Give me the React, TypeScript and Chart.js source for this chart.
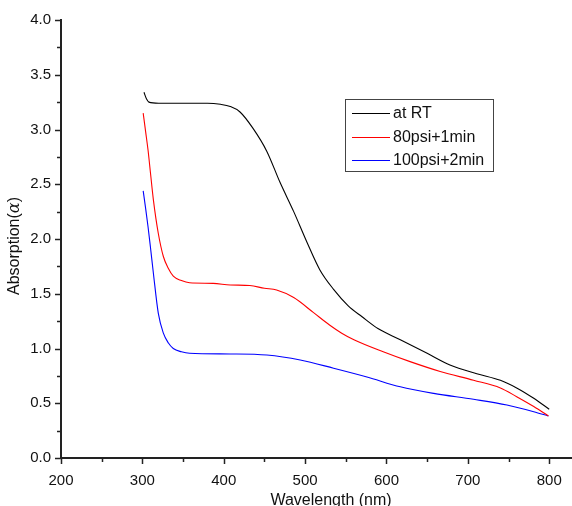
import React, { useEffect, useRef } from "react";
import { Chart, registerables } from "chart.js";

Chart.register(...registerables);

const rtWavelength = [302, 305, 308, 320, 350, 380, 396, 408, 420, 436, 453, 469, 486, 502, 518, 535, 553, 570, 590, 617, 650, 678, 711, 740, 760, 781, 800];
const rtAbsorption = [3.34, 3.28, 3.25, 3.24, 3.24, 3.24, 3.23, 3.21, 3.16, 3.01, 2.8, 2.52, 2.25, 1.975, 1.72, 1.54, 1.39, 1.29, 1.18, 1.08, 0.956, 0.85, 0.77, 0.71, 0.64, 0.545, 0.445];

const p80Wavelength = [301, 304, 307, 310, 313.5, 319.6, 325.8, 332, 338, 348, 358, 387, 408, 432, 450, 465, 486, 510, 530, 545, 560, 596, 629, 666, 707, 740, 760, 781, 799];
const p80Absorption = [3.15, 2.98, 2.81, 2.6, 2.36, 2.05, 1.84, 1.73, 1.66, 1.62, 1.6, 1.595, 1.58, 1.575, 1.55, 1.534, 1.465, 1.33, 1.215, 1.14, 1.08, 0.97, 0.88, 0.79, 0.71, 0.64, 0.56, 0.47, 0.384];

const p100Wavelength = [301, 304, 307, 310, 313.5, 319.6, 325.8, 332, 338, 348, 358, 408, 453, 494, 535, 576, 617, 658, 707, 748, 781, 799];
const p100Absorption = [2.44, 2.28, 2.11, 1.92, 1.69, 1.32, 1.14, 1.05, 1.0, 0.97, 0.956, 0.95, 0.94, 0.895, 0.82, 0.74, 0.65, 0.59, 0.536, 0.484, 0.423, 0.384];

const seriesLabels = ["at RT", "80psi+1min", "100psi+2min"];
const seriesColors = ["#000000", "#ff0000", "#0000ff"];

const xTitle = "Wavelength (nm)";
const yTitleMain = "Absorption(";
const yTitleSymbol = "α";
const yTitleEnd = ")";

const FONT = "'Liberation Sans', Arial, sans-serif";

const toPoints = (xs: number[], ys: number[]) => xs.map((x, i) => ({ x, y: ys[i] }));

const customPlugin = {
  id: "customDecor",
  afterDraw(chart: any) {
    const ctx: CanvasRenderingContext2D = chart.ctx;
    const xs = chart.scales.x;
    const ys = chart.scales.y;
    const area = chart.chartArea;
    ctx.save();
    ctx.strokeStyle = "#222";
    ctx.lineWidth = 1.5;
    xs.ticks.forEach((t: any) => {
      const px = Math.round(xs.getPixelForValue(t.value)) + 0.5;
      const len = t.value % 100 === 0 ? 6 : 4;
      ctx.beginPath();
      ctx.moveTo(px, area.bottom);
      ctx.lineTo(px, area.bottom + len);
      ctx.stroke();
    });
    ys.ticks.forEach((t: any) => {
      const py = Math.round(ys.getPixelForValue(t.value)) + 0.5;
      const len = Math.abs(t.value * 2 - Math.round(t.value * 2)) < 1e-6 ? 6 : 4;
      ctx.beginPath();
      ctx.moveTo(area.left, py);
      ctx.lineTo(area.left - len, py);
      ctx.stroke();
    });

    // x title
    ctx.fillStyle = "#111";
    ctx.font = `16px ${FONT}`;
    ctx.textAlign = "center";
    ctx.textBaseline = "alphabetic";
    ctx.fillText(xTitle, 331, 505);

    // y title
    ctx.save();
    ctx.translate(19, 246);
    ctx.rotate(-Math.PI / 2);
    const mainFont = `16px ${FONT}`;
    const symFont = `italic 16px 'DejaVu Serif', serif`;
    ctx.font = mainFont;
    const w1 = ctx.measureText(yTitleMain).width;
    const w3 = ctx.measureText(yTitleEnd).width;
    ctx.font = symFont;
    const w2 = ctx.measureText(yTitleSymbol).width;
    const total = w1 + w2 + w3;
    let cx = -total / 2;
    ctx.textAlign = "left";
    ctx.textBaseline = "alphabetic";
    ctx.font = mainFont;
    ctx.fillText(yTitleMain, cx, 0);
    cx += w1;
    ctx.font = symFont;
    ctx.fillText(yTitleSymbol, cx, 0);
    cx += w2;
    ctx.font = mainFont;
    ctx.fillText(yTitleEnd, cx, 0);
    ctx.restore();

    // legend
    const bx = 345.5, by = 99.5, bw = 148, bh = 72;
    ctx.fillStyle = "#fff";
    ctx.fillRect(bx, by, bw, bh);
    ctx.strokeStyle = "#444";
    ctx.lineWidth = 1;
    ctx.strokeRect(bx, by, bw, bh);
    const rowY = [113, 137, 160];
    chart.data.datasets.forEach((ds: any, i: number) => {
      ctx.strokeStyle = seriesColors[i];
      ctx.lineWidth = 1.2;
      ctx.beginPath();
      ctx.moveTo(352, rowY[i] + 0.5);
      ctx.lineTo(390, rowY[i] + 0.5);
      ctx.stroke();
      ctx.fillStyle = "#111";
      ctx.font = `16px ${FONT}`;
      ctx.textAlign = "left";
      ctx.textBaseline = "middle";
      ctx.fillText(ds.label, 393, rowY[i] + 1);
    });
    ctx.restore();
  },
};

export default function App() {
  const canvasRef = useRef<HTMLCanvasElement>(null);

  useEffect(() => {
    document.body.style.margin = "0";
    const canvas = canvasRef.current;
    if (!canvas) return;
    const chart = new Chart(canvas, {
      type: "line",
      data: {
        datasets: [
          { label: seriesLabels[0], data: toPoints(rtWavelength, rtAbsorption), borderColor: seriesColors[0] },
          { label: seriesLabels[1], data: toPoints(p80Wavelength, p80Absorption), borderColor: seriesColors[1] },
          { label: seriesLabels[2], data: toPoints(p100Wavelength, p100Absorption), borderColor: seriesColors[2] },
        ].map((d) => ({
          ...d,
          borderWidth: 1.1,
          pointRadius: 0,
          fill: false,
          cubicInterpolationMode: "monotone" as const,
        })),
      },
      options: {
        responsive: false,
        animation: false,
        layout: { padding: { top: 20, left: 0, right: 0, bottom: 0 } },
        plugins: { legend: { display: false }, tooltip: { enabled: false } },
        scales: {
          x: {
            type: "linear",
            min: 200,
            max: 828,
            afterFit: (s: any) => {
              s.height = 48;
            },
            ticks: {
              stepSize: 50,
              includeBounds: false,
              autoSkip: false,
              maxRotation: 0,
              padding: 8,
              color: "#111",
              font: { family: FONT, size: 15 },
              callback: (v: any) => (Number(v) % 100 === 0 ? String(v) : ""),
            },
            grid: { drawOnChartArea: false, drawTicks: true, tickLength: 6, tickColor: "rgba(0,0,0,0)" },
            border: { color: "#222", width: 2 },
          },
          y: {
            type: "linear",
            min: 0,
            max: 4,
            afterFit: (s: any) => {
              s.width = 61;
            },
            ticks: {
              stepSize: 0.25,
              includeBounds: false,
              autoSkip: false,
              padding: 4,
              color: "#111",
              font: { family: FONT, size: 15 },
              callback: (v: any) => {
                const n = Number(v);
                return Math.abs(n * 2 - Math.round(n * 2)) < 1e-6 ? n.toFixed(1) : "";
              },
            },
            grid: { drawOnChartArea: false, drawTicks: true, tickLength: 6, tickColor: "rgba(0,0,0,0)" },
            border: { color: "#222", width: 2 },
          },
        },
      },
      plugins: [customPlugin],
    });
    return () => chart.destroy();
  }, []);

  return (
    <div style={{ width: 572, height: 506, background: "#fff" }}>
      <canvas ref={canvasRef} width={572} height={506} style={{ display: "block" }} />
    </div>
  );
}
